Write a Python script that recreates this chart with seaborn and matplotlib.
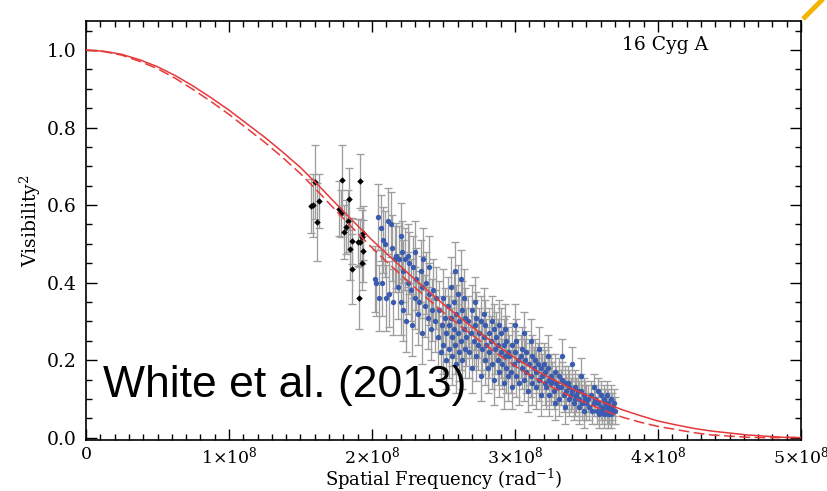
import matplotlib
matplotlib.use("Agg")
import matplotlib.pyplot as plt
import seaborn as sns
import pandas as pd
from matplotlib.ticker import MultipleLocator, FixedLocator, FixedFormatter
from matplotlib.lines import Line2D

# ---------------- data (spatial frequency in units of 1e8 rad^-1) ----------------
curve_freq = [0.0, 0.125, 0.25, 0.375, 0.5, 0.625, 0.75, 0.875, 1.0, 1.125, 1.25, 1.375, 1.5,
              1.625, 1.75, 1.875, 2.0, 2.125, 2.25, 2.375, 2.5, 2.625, 2.75, 2.875, 3.0, 3.125,
              3.25, 3.375, 3.5, 3.625, 3.75, 3.875, 4.0, 4.125, 4.25, 4.375, 4.5, 4.625, 4.75,
              4.875, 5.0]
model_solid = [1.000, 0.997, 0.989, 0.975, 0.957, 0.934, 0.907, 0.877, 0.845, 0.810, 0.775,
               0.737, 0.697, 0.651, 0.603, 0.556, 0.510, 0.467, 0.425, 0.384, 0.344, 0.307,
               0.272, 0.238, 0.206, 0.178, 0.153, 0.130, 0.110, 0.090, 0.072, 0.057, 0.043,
               0.033, 0.024, 0.017, 0.012, 0.007, 0.004, 0.001, 0.000]
model_dashed = [1.000, 0.996, 0.987, 0.971, 0.952, 0.927, 0.898, 0.867, 0.834, 0.798, 0.762,
                0.723, 0.681, 0.634, 0.585, 0.537, 0.490, 0.446, 0.404, 0.363, 0.323, 0.286,
                0.251, 0.217, 0.185, 0.157, 0.132, 0.109, 0.089, 0.070, 0.053, 0.040, 0.029,
                0.021, 0.013, 0.007, 0.004, 0.001, 0.000, 0.000, 0.001]

black_freq = [1.574, 1.588, 1.604, 1.627, 1.616, 1.793, 1.837, 1.919, 1.772, 1.786, 1.833, 1.821,
              1.807, 1.858, 1.849, 1.861, 1.900, 1.914, 1.933, 1.938, 1.940, 1.931, 1.907]
black_vis = [0.597, 0.599, 0.660, 0.610, 0.556, 0.665, 0.617, 0.662, 0.591, 0.579, 0.559, 0.544,
             0.531, 0.507, 0.486, 0.436, 0.504, 0.505, 0.518, 0.528, 0.482, 0.450, 0.361]
black_err = [0.07, 0.08, 0.095, 0.07, 0.10, 0.09, 0.08, 0.07, 0.07, 0.06, 0.08, 0.07,
             0.07, 0.06, 0.08, 0.09, 0.06, 0.06, 0.07, 0.07, 0.08, 0.07, 0.08]

blue_freq_1 = [2.02, 2.03, 2.04, 2.05, 2.06, 2.07, 2.08, 2.09, 2.10, 2.11, 2.12, 2.13, 2.14, 2.15,
               2.16, 2.17, 2.18, 2.19, 2.20, 2.20]
blue_vis_1 = [0.41, 0.40, 0.57, 0.36, 0.54, 0.40, 0.51, 0.50, 0.36, 0.56, 0.37, 0.55, 0.49, 0.35,
              0.46, 0.47, 0.39, 0.46, 0.52, 0.35]
blue_freq_2 = [2.21, 2.22, 2.22, 2.23, 2.24, 2.25, 2.25, 2.26, 2.27, 2.28, 2.29, 2.30, 2.30, 2.31,
               2.32, 2.33, 2.34, 2.35, 2.35, 2.36, 2.37, 2.38, 2.39, 2.40, 2.40, 2.41, 2.42, 2.43,
               2.44, 2.45]
blue_vis_2 = [0.48, 0.33, 0.43, 0.46, 0.30, 0.47, 0.40, 0.45, 0.38, 0.29, 0.44, 0.36, 0.48, 0.41,
              0.32, 0.35, 0.43, 0.39, 0.27, 0.46, 0.34, 0.40, 0.31, 0.37, 0.44, 0.28, 0.33, 0.38,
              0.30, 0.36]
blue_freq_3 = [2.46, 2.47, 2.48, 2.49, 2.50, 2.50, 2.51, 2.52, 2.52, 2.53, 2.54, 2.54, 2.55, 2.55,
               2.56, 2.56, 2.57, 2.57, 2.58, 2.58, 2.59, 2.59, 2.60, 2.60, 2.61, 2.61, 2.62, 2.62,
               2.63, 2.63, 2.64, 2.64, 2.65, 2.65, 2.66]
blue_vis_3 = [0.26, 0.33, 0.22, 0.29, 0.36, 0.24, 0.31, 0.27, 0.20, 0.34, 0.29, 0.23, 0.39, 0.31,
              0.26, 0.21, 0.35, 0.28, 0.43, 0.24, 0.32, 0.19, 0.37, 0.27, 0.30, 0.22, 0.41, 0.25,
              0.33, 0.20, 0.28, 0.36, 0.23, 0.31, 0.26]
blue_freq_4 = [2.67, 2.68, 2.69, 2.70, 2.70, 2.71, 2.72, 2.73, 2.73, 2.74, 2.75, 2.76, 2.76, 2.77,
               2.78, 2.79, 2.79, 2.80, 2.81, 2.82, 2.82, 2.83, 2.84, 2.85, 2.85, 2.86, 2.87, 2.88,
               2.88, 2.89, 2.90, 2.90, 2.91, 2.92, 2.92, 2.93, 2.94, 2.94, 2.95, 2.95, 2.72, 2.78,
               2.84, 2.89, 2.93]
blue_vis_4 = [0.30, 0.22, 0.27, 0.33, 0.18, 0.25, 0.29, 0.21, 0.31, 0.24, 0.27, 0.16, 0.30, 0.23,
              0.26, 0.20, 0.29, 0.24, 0.18, 0.27, 0.22, 0.25, 0.19, 0.28, 0.15, 0.23, 0.26, 0.20,
              0.24, 0.17, 0.22, 0.27, 0.19, 0.24, 0.14, 0.21, 0.25, 0.18, 0.22, 0.16, 0.35, 0.32,
              0.30, 0.29, 0.28]
blue_freq_5 = [2.96, 2.97, 2.98, 2.98, 2.99, 3.00, 3.01, 3.01, 3.02, 3.03, 3.04, 3.05, 3.05, 3.06,
               3.07, 3.08, 3.08, 3.09, 3.10, 3.11, 3.12, 3.12, 3.13, 3.14, 3.15, 3.15, 3.16, 3.17,
               3.18, 3.18, 3.19, 3.20, 3.21, 3.21, 3.22, 3.23, 3.24, 3.24, 3.25, 3.25, 3.00, 3.06,
               3.11, 3.17, 3.23]
blue_vis_5 = [0.21, 0.17, 0.24, 0.13, 0.19, 0.22, 0.16, 0.25, 0.20, 0.14, 0.21, 0.18, 0.23, 0.15,
              0.20, 0.17, 0.22, 0.12, 0.19, 0.16, 0.21, 0.14, 0.18, 0.20, 0.13, 0.17, 0.19, 0.15,
              0.18, 0.11, 0.16, 0.19, 0.14, 0.17, 0.13, 0.18, 0.15, 0.11, 0.16, 0.14, 0.29, 0.27,
              0.25, 0.23, 0.21]
blue_freq_6 = [3.26, 3.27, 3.28, 3.28, 3.29, 3.30, 3.31, 3.31, 3.32, 3.33, 3.34, 3.35, 3.35, 3.36,
               3.37, 3.38, 3.38, 3.39, 3.40, 3.41, 3.42, 3.42, 3.43, 3.44, 3.45, 3.45, 3.46, 3.47,
               3.48, 3.48, 3.49, 3.50, 3.33, 3.40, 3.46]
blue_vis_6 = [0.15, 0.12, 0.17, 0.09, 0.14, 0.13, 0.16, 0.10, 0.13, 0.15, 0.11, 0.14, 0.08, 0.12,
              0.14, 0.10, 0.13, 0.11, 0.12, 0.09, 0.13, 0.10, 0.11, 0.12, 0.08, 0.10, 0.12, 0.09,
              0.11, 0.07, 0.10, 0.09, 0.21, 0.19, 0.16]
blue_freq_7 = [3.51, 3.52, 3.53, 3.54, 3.55, 3.56, 3.57, 3.58, 3.59, 3.60, 3.60, 3.61, 3.62, 3.62,
               3.63, 3.63, 3.64, 3.64, 3.65, 3.65, 3.66, 3.66, 3.67, 3.67, 3.68, 3.68, 3.69, 3.70,
               3.55, 3.58]
blue_vis_7 = [0.10, 0.08, 0.11, 0.07, 0.09, 0.10, 0.07, 0.09, 0.06, 0.11, 0.08, 0.07, 0.10, 0.06,
              0.09, 0.08, 0.07, 0.11, 0.06, 0.09, 0.08, 0.07, 0.10, 0.06, 0.08, 0.07, 0.09, 0.07,
              0.13, 0.12]
blue_group_err = [0.085, 0.08, 0.075, 0.065, 0.055, 0.045, 0.035]

x_tick_vals = [0, 1, 2, 3, 4, 5]
x_tick_labels = ["0", r"1$\times$10$^8$", r"2$\times$10$^8$", r"3$\times$10$^8$",
                 r"4$\times$10$^8$", r"5$\times$10$^8$"]
y_tick_vals = [0.0, 0.2, 0.4, 0.6, 0.8, 1.0]
y_tick_labels = ["0.0", "0.2", "0.4", "0.6", "0.8", "1.0"]

# ---------------- build tables ----------------
blue_groups = [(blue_freq_1, blue_vis_1), (blue_freq_2, blue_vis_2), (blue_freq_3, blue_vis_3),
               (blue_freq_4, blue_vis_4), (blue_freq_5, blue_vis_5), (blue_freq_6, blue_vis_6),
               (blue_freq_7, blue_vis_7)]
rows = []
for (fx, fv), e in zip(blue_groups, blue_group_err):
    for a, b in zip(fx, fv):
        rows.append((a, b, e))
blue_df = pd.DataFrame(rows, columns=["freq", "vis", "err"])
black_df = pd.DataFrame({"freq": black_freq, "vis": black_vis, "err": black_err})
curve_df = pd.DataFrame({"freq": curve_freq, "solid": model_solid, "dashed": model_dashed})

# ---------------- style ----------------
sns.set_style("ticks")
plt.rcParams["font.family"] = ["DejaVu Serif"]
plt.rcParams["mathtext.fontset"] = "dejavuserif"
plt.rcParams["text.color"] = "black"
plt.rcParams["axes.labelcolor"] = "black"
plt.rcParams["xtick.color"] = "black"
plt.rcParams["ytick.color"] = "black"

fig = plt.figure(figsize=(8.28, 4.91), dpi=100)
ax = fig.add_axes([86 / 828, 1 - 440 / 491, (801 - 86) / 828, (440 - 21) / 491])

ecol = "#9e9e9e"
ax.errorbar(blue_df["freq"], blue_df["vis"], yerr=blue_df["err"], fmt="none", ecolor=ecol,
            elinewidth=0.95, capsize=3, capthick=0.95, zorder=1)
ax.errorbar(black_df["freq"], black_df["vis"], yerr=black_df["err"], fmt="none", ecolor=ecol,
            elinewidth=0.95, capsize=3, capthick=0.95, zorder=1)
sns.scatterplot(data=blue_df, x="freq", y="vis", color="#3a5cb0", s=15, linewidth=0,
                ax=ax, zorder=3)
sns.scatterplot(data=black_df, x="freq", y="vis", color="black", marker="D", s=11, linewidth=0,
                ax=ax, zorder=3)

red = "#e8383a"
sns.lineplot(data=curve_df, x="freq", y="solid", color=red, linewidth=1.1, ax=ax, zorder=4)
sns.lineplot(data=curve_df, x="freq", y="dashed", color=red, linewidth=1.1, ax=ax, zorder=4)
ax.lines[-1].set_dashes([7, 3])

ax.set_xlim(0, 5)
ax.set_ylim(-0.006, 1.075)
ax.xaxis.set_major_locator(FixedLocator(x_tick_vals))
ax.xaxis.set_major_formatter(FixedFormatter(x_tick_labels))
ax.xaxis.set_minor_locator(MultipleLocator(0.1))
ax.yaxis.set_major_locator(FixedLocator(y_tick_vals))
ax.yaxis.set_major_formatter(FixedFormatter(y_tick_labels))
ax.yaxis.set_minor_locator(MultipleLocator(0.05))
ax.tick_params(which="both", direction="in", top=True, right=True, width=1, colors="black")
ax.tick_params(which="major", length=8)
ax.tick_params(axis="y", which="major", labelsize=13.5, pad=7)
ax.tick_params(axis="x", which="major", labelsize=12.5, pad=4)
ax.tick_params(which="minor", length=4)
for sp in ax.spines.values():
    sp.set_visible(True)
    sp.set_linewidth(1.2)
    sp.set_color("black")

ax.set_xlabel(r"Spatial Frequency (rad$^{-1}$)", fontsize=13)
ax.xaxis.set_label_coords(0.5, -0.064)
ax.set_ylabel(r"Visibility$^2$", fontsize=13.5)
ax.yaxis.set_label_coords(-0.06, 0.523)

ax.text(0.75, 0.943, "16 Cyg A", transform=ax.transAxes, fontsize=13.5, ha="left", va="center")
fig.text(103 / 828, 1 - 386 / 491, "White et al. (2013)", family=["Liberation Sans"],
         fontsize=32, color="black", ha="left", va="center", zorder=10)

fig.add_artist(Line2D([803 / 828, 823 / 828], [1 - 19 / 491, 1 - (-1) / 491],
                      transform=fig.transFigure, color="#f5b400", linewidth=3.5,
                      solid_capstyle="butt"))

fig.savefig("out.png", dpi=100)
